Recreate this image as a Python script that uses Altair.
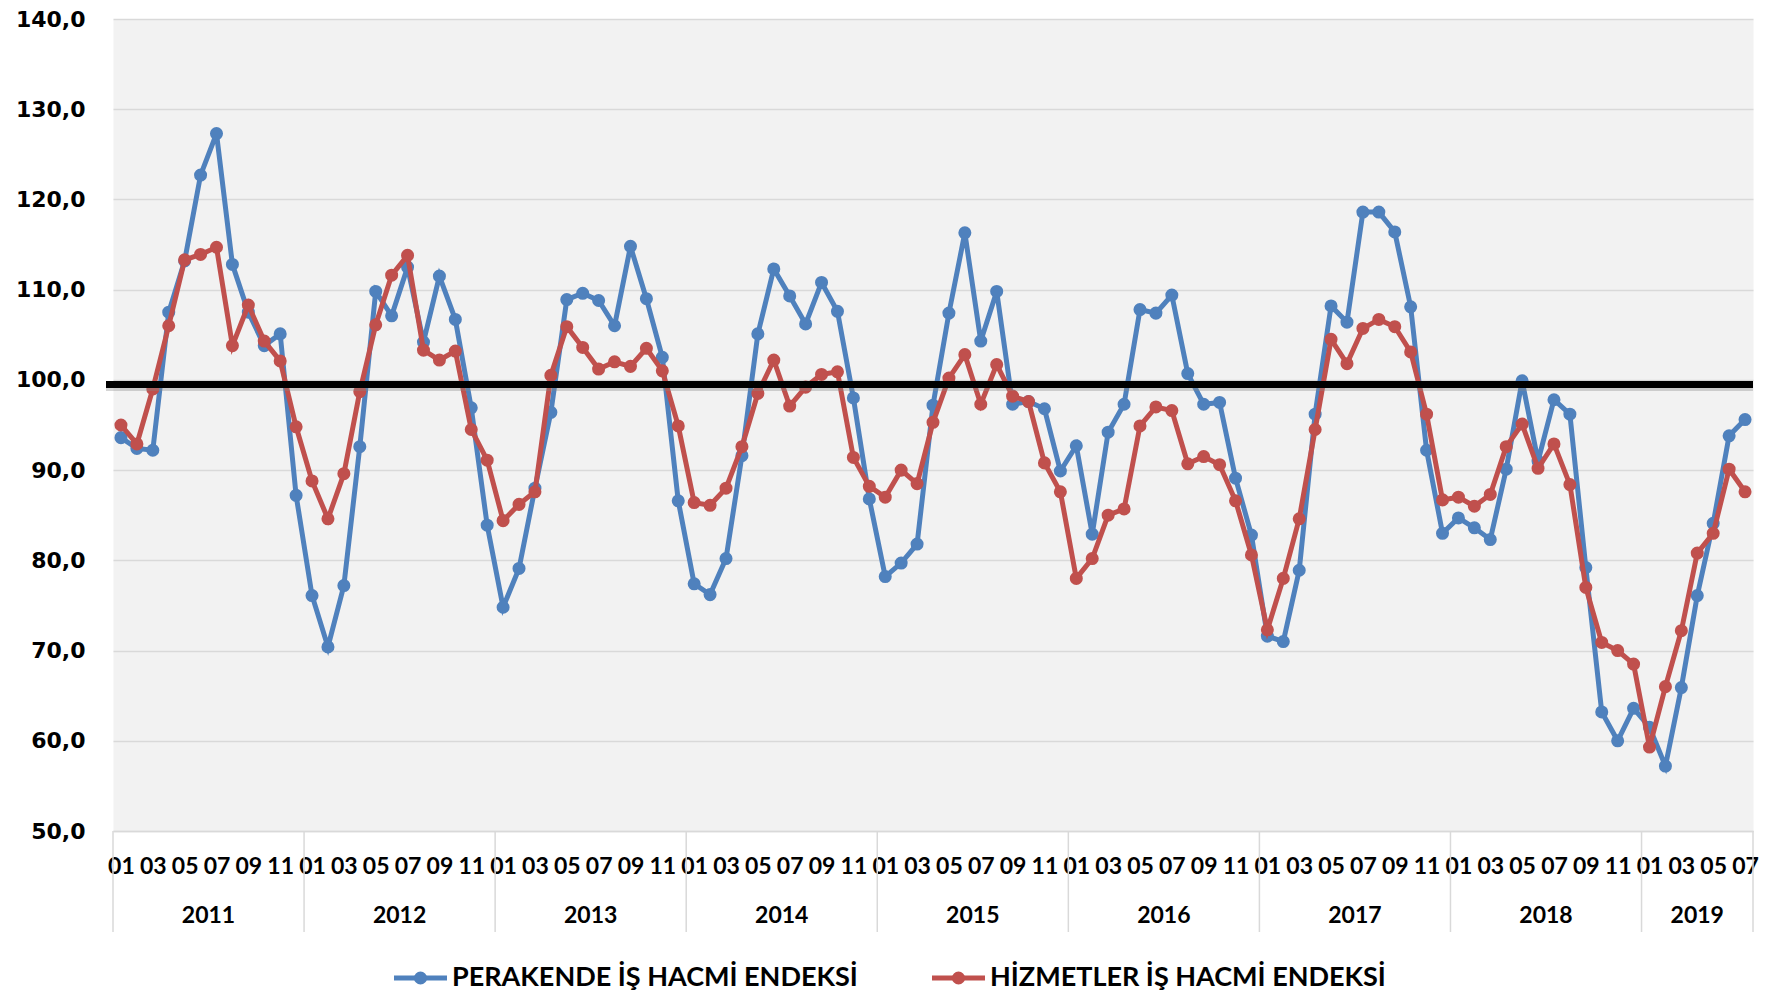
import altair as alt
import pandas as pd

years = [2011, 2012, 2013, 2014, 2015, 2016, 2017, 2018, 2019]
months_per_year = [12, 12, 12, 12, 12, 12, 12, 12, 7]

perakende = [
    93.6, 92.4, 92.2, 107.5, 113.2, 122.7, 127.3, 112.8, 107.5, 103.8, 105.1, 87.2,
    76.1, 70.4, 77.2, 92.6, 109.8, 107.1, 112.5, 104.2, 111.5, 106.7, 96.9, 83.9,
    74.8, 79.1, 88.0, 96.4, 108.9, 109.6, 108.8, 106.0, 114.8, 109.0, 102.5, 86.6,
    77.4, 76.2, 80.2, 91.6, 105.1, 112.3, 109.3, 106.2, 110.8, 107.6, 98.0, 86.8,
    78.2, 79.7, 81.8, 97.2, 107.4, 116.3, 104.3, 109.8, 97.3, 97.6, 96.8, 89.9,
    92.7, 82.9, 94.2, 97.3, 107.8, 107.4, 109.4, 100.7, 97.3, 97.5, 89.1, 82.8,
    71.6, 71.0, 78.9, 96.2, 108.2, 106.4, 118.6, 118.6, 116.4, 108.1, 92.2, 83.0,
    84.7, 83.6, 82.3, 90.1, 99.9, 91.0, 97.8, 96.2, 79.2, 63.2, 60.0, 63.6,
    61.5, 57.2, 65.9, 76.1, 84.1, 93.8, 95.6,
]

hizmetler = [
    95.0, 92.9, 99.0, 106.0, 113.3, 113.9, 114.7, 103.8, 108.3, 104.3, 102.1, 94.8,
    88.8, 84.6, 89.6, 98.7, 106.1, 111.6, 113.8, 103.3, 102.2, 103.2, 94.5, 91.1,
    84.4, 86.2, 87.6, 100.5, 105.9, 103.6, 101.2, 102.0, 101.5, 103.5, 101.0, 94.9,
    86.4, 86.1, 88.0, 92.6, 98.5, 102.2, 97.1, 99.2, 100.6, 100.9, 91.4, 88.2,
    87.0, 90.0, 88.5, 95.3, 100.2, 102.8, 97.3, 101.7, 98.2, 97.6, 90.8, 87.6,
    78.0, 80.2, 85.0, 85.7, 94.9, 97.0, 96.6, 90.7, 91.5, 90.6, 86.6, 80.6,
    72.3, 78.0, 84.6, 94.5, 104.5, 101.8, 105.7, 106.7, 105.9, 103.1, 96.2, 86.7,
    87.0, 86.0, 87.3, 92.6, 95.1, 90.2, 92.9, 88.4, 77.0, 70.9, 70.0, 68.5,
    59.3, 66.0, 72.2, 80.8, 83.0, 90.1, 87.6,
]

series_names = ["PERAKENDE İŞ HACMİ ENDEKSİ", "HİZMETLER İŞ HACMİ ENDEKSİ"]
reference_level = 99.5

BLUE = "#4F81BD"
RED = "#C0504D"
GRID = "#d9d9d9"
FONT = "Lato, Open Sans, sans-serif"

TOP = 11
W, H = 1640, 831 - 8 - TOP
TOTAL_H = 983
n = len(perakende)

df_p = pd.DataFrame({"i": list(range(n)), "v": perakende})
df_h = pd.DataFrame({"i": list(range(n)), "v": hizmetler})

bounds = []
mids = []
start = 0
for y, m in zip(years, months_per_year):
    bounds.append(start - 0.5)
    mids.append({"year": str(y), "mid": start + (m - 1) / 2})
    start += m
bounds.append(start - 0.5)
df_b = pd.DataFrame({"b": bounds})
df_y = pd.DataFrame(mids)

xscale = alt.Scale(domain=[-0.5, n - 0.5], nice=False, zero=False)
yscale = alt.Scale(domain=[50, 140], nice=False, zero=False)

month_expr = "((datum.value % 12) + 1 < 10 ? '0' : '') + ((datum.value % 12) + 1)"

x_axis = alt.Axis(
    values=list(range(0, n, 2)), labelExpr=month_expr, title=None, grid=False,
    ticks=False, domain=True, domainColor=GRID, domainWidth=1.5,
    labelFont=FONT, labelFontSize=23, labelFontWeight="bold", labelColor="black",
    labelBaseline="middle", labelPadding=35, labelAngle=0, labelOverlap=False,
    labelBound=False, labelFlush=False,
)
y_axis = alt.Axis(
    values=list(range(50, 141, 10)),
    labelExpr="replace(format(datum.value, '.1f'), '.', ',')",
    title=None, grid=True, gridColor=GRID, gridWidth=1.5, ticks=False, domain=False,
    labelFont="DejaVu Sans", labelFontSize=22, labelFontWeight="bold",
    labelColor="black", labelPadding=28,
)

X = lambda f: alt.X(f, scale=xscale, axis=x_axis)
Y = lambda f: alt.Y(f, scale=yscale, axis=y_axis)

def series_layers(df, color):
    line = alt.Chart(df).mark_line(color=color, strokeWidth=5).encode(x=X("i:Q"), y=Y("v:Q"))
    pts = alt.Chart(df).mark_circle(color=color, size=170, opacity=1).encode(x=X("i:Q"), y=Y("v:Q"))
    return [line, pts]

ref_df = pd.DataFrame({"v": [reference_level]})
shadow = alt.Chart(ref_df).mark_rule(color="#888888", strokeWidth=7, opacity=0.35, yOffset=3).encode(
    y=Y("v:Q"), x=alt.value(-7), x2=alt.value(W))
black = alt.Chart(ref_df).mark_rule(color="black", strokeWidth=7).encode(
    y=Y("v:Q"), x=alt.value(-7), x2=alt.value(W))

seps = alt.Chart(df_b).mark_rule(color=GRID, strokeWidth=1.5).encode(
    x=X("b:Q"), y=alt.value(H), y2=alt.value(H + 101))
year_text = alt.Chart(df_y).mark_text(
    font=FONT, fontSize=23, fontWeight="bold", color="black", baseline="middle"
).encode(x=X("mid:Q"), y=alt.value(H + 85), text="year:N")

one = alt.Data(values=[{"a": 1}])
LY = 978 - 8 - TOP
def legend_item(x0, color, label):
    r = alt.Chart(one).mark_rule(color=color, strokeWidth=5).encode(
        x=alt.value(x0), x2=alt.value(x0 + 53), y=alt.value(LY))
    c = alt.Chart(one).mark_circle(color=color, size=170, opacity=1).encode(
        x=alt.value(x0 + 26.5), y=alt.value(LY))
    t = alt.Chart(one).mark_text(
        font=FONT, fontSize=27, fontWeight="bold", color="black",
        align="left", baseline="middle").encode(
        x=alt.value(x0 + 58), y=alt.value(LY), text=alt.value(label))
    return [r, c, t]

layers = (series_layers(df_p, BLUE) + series_layers(df_h, RED)
          + [shadow, black, seps, year_text]
          + legend_item(281, BLUE, series_names[0]) + legend_item(819, RED, series_names[1]))

chart = alt.layer(*layers).properties(
    width=W, height=H,
    autosize=alt.AutoSizeParams(type="none"),
    padding={"left": 105, "top": TOP, "right": 10, "bottom": TOTAL_H - TOP - H},
    background="white",
).configure_view(fill="#f2f2f2", stroke="transparent")

chart.save("out.html", embed_options={"renderer": "svg", "actions": False})
